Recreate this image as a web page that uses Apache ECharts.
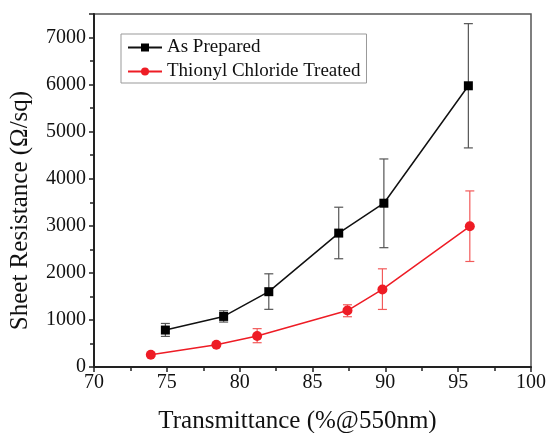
<!DOCTYPE html>
<html><head><meta charset="utf-8">
<script src="https://cdn.jsdelivr.net/npm/echarts@6/dist/echarts.min.js"></script>
<style>html,body{margin:0;padding:0;background:#fff}#c{width:547px;height:433px}</style>
</head><body><div id="c"></div>
<script>
const seriesNames = ['As Prepared', 'Thionyl Chloride Treated'];
const prepX = [74.9, 78.9, 82.0, 86.8, 89.9, 95.7];
const prepY = [785, 1075, 1600, 2845, 3480, 5975];
const prepLow = [650, 955, 1225, 2300, 2535, 4655];
const prepHigh = [925, 1195, 1980, 3395, 4420, 7295];
const treatX = [73.9, 78.4, 81.2, 87.4, 89.8, 95.8];
const treatY = [262, 474, 660, 1200, 1648, 2990];
const treatLow = [null, null, 516, 1068, 1223, 2242];
const treatHigh = [null, null, 815, 1322, 2086, 3741];
const xTicks = [70, 75, 80, 85, 90, 95, 100];
const yTicks = [0, 1000, 2000, 3000, 4000, 5000, 6000, 7000];

const FONT = '"Liberation Serif", "Times New Roman", serif';
const pair = (xs, ys) => xs.map((x, i) => [x, ys[i]]);
const errData = (xs, lo, hi) => xs.map((x, i) => [x, lo[i], hi[i]]).filter(d => d[1] != null);

function errRender(color) {
  return function (params, api) {
    const x = api.value(0);
    const lo = api.coord([x, api.value(1)]);
    const hi = api.coord([x, api.value(2)]);
    const w = 4.5;
    const style = { stroke: color, lineWidth: 1.2 };
    return {
      type: 'group',
      children: [
        { type: 'line', shape: { x1: lo[0], y1: lo[1], x2: hi[0], y2: hi[1] }, style },
        { type: 'line', shape: { x1: lo[0] - w, y1: lo[1], x2: lo[0] + w, y2: lo[1] }, style },
        { type: 'line', shape: { x1: hi[0] - w, y1: hi[1], x2: hi[0] + w, y2: hi[1] }, style }
      ]
    };
  };
}

const chart = echarts.init(document.getElementById('c'), null, { renderer: 'canvas' });
chart.setOption({
  animation: false,
  backgroundColor: '#fff',
  textStyle: { fontFamily: FONT },
  grid: { left: 94, right: 16, top: 14, bottom: 66, show: true, borderColor: '#555', borderWidth: 1.5,
    containLabel: false, outerBoundsMode: 'none' },
  legend: {
    data: seriesNames,
    left: 121, top: 34,
    orient: 'vertical',
    itemWidth: 34, itemHeight: 10, itemGap: 5,
    padding: [4, 6, 2, 6],
    borderColor: '#999', borderWidth: 1,
    textStyle: { fontFamily: FONT, fontSize: 19, color: '#111' }
  },
  xAxis: {
    type: 'value', min: xTicks[0], max: xTicks[xTicks.length - 1], interval: 5,
    name: 'Transmittance (%@550nm)', nameLocation: 'middle', nameGap: 42,
    nameTextStyle: { fontFamily: FONT, fontSize: 25, color: '#111', padding: [0, 30, 0, 0] },
    axisLine: { lineStyle: { color: '#222', width: 2 } },
    axisTick: { show: true, length: 5, lineStyle: { color: '#222', width: 1.5 } },
    minorTick: { show: true, splitNumber: 2, length: 4, lineStyle: { color: '#222', width: 1.5 } },
    axisLabel: { fontFamily: FONT, fontSize: 20, color: '#111', margin: 6 },
    splitLine: { show: false }
  },
  yAxis: {
    type: 'value', min: 0, max: 7500, interval: 1000,
    name: 'Sheet Resistance (Ω/sq)', nameLocation: 'middle', nameGap: 61,
    nameTextStyle: { fontFamily: FONT, fontSize: 25, color: '#111', padding: [0, 40, 0, 0] },
    axisLine: { show: true, lineStyle: { color: '#222', width: 2 } },
    axisTick: { show: true, length: 5, lineStyle: { color: '#222', width: 1.5 } },
    minorTick: { show: true, splitNumber: 2, length: 4, lineStyle: { color: '#222', width: 1.5 } },
    axisLabel: { fontFamily: FONT, fontSize: 20, color: '#111', margin: 8,
      formatter: v => yTicks.includes(v) ? String(v) : '' },
    splitLine: { show: false }
  },
  series: [
    { type: 'custom', name: 'err1', renderItem: errRender('#555'), data: errData(prepX, prepLow, prepHigh), encode: { x: 0, y: [1, 2] }, z: 1, silent: true },
    { type: 'custom', name: 'err2', renderItem: errRender('#f25a5a'), data: errData(treatX, treatLow, treatHigh), encode: { x: 0, y: [1, 2] }, z: 1, silent: true },
    { type: 'line', name: seriesNames[0], data: pair(prepX, prepY), symbol: 'rect', symbolSize: 9,
      itemStyle: { color: '#000' }, lineStyle: { color: '#111', width: 1.5 }, z: 3 },
    { type: 'line', name: seriesNames[1], data: pair(treatX, treatY), symbol: 'circle', symbolSize: 10,
      itemStyle: { color: '#ee1c25' }, lineStyle: { color: '#ee1c25', width: 1.5 }, z: 3 }
  ]
});
</script></body></html>
